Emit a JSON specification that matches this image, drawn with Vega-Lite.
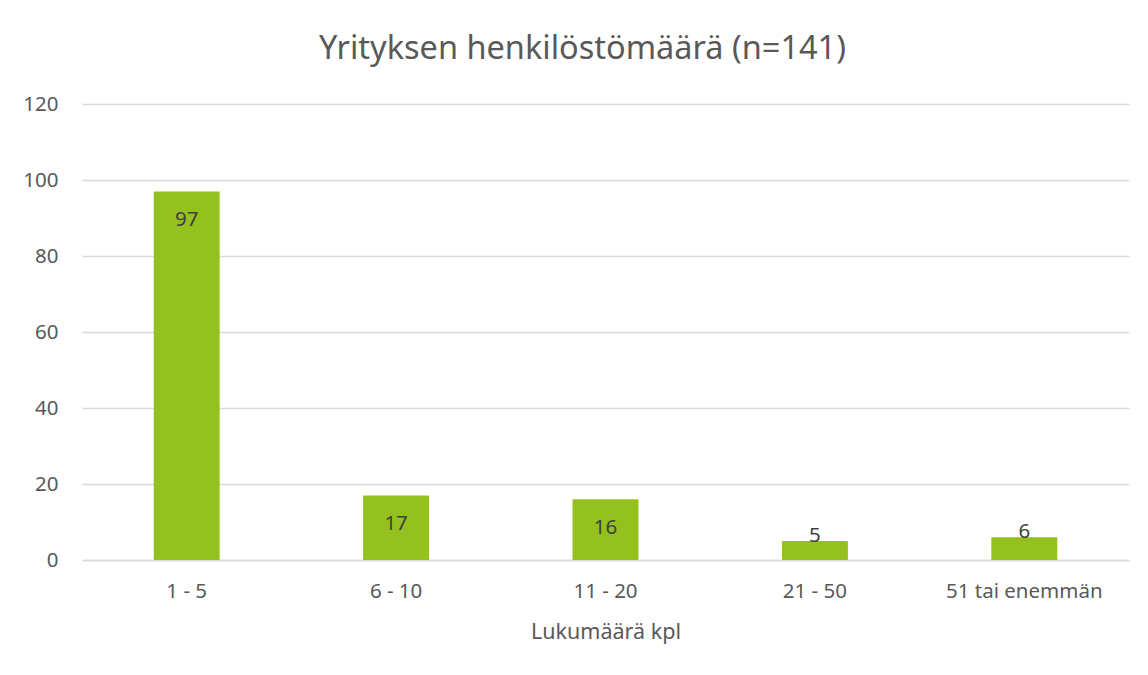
{
  "$schema": "https://vega.github.io/schema/vega-lite/v6.json",
  "autosize": {"type": "none"},
  "padding": {"left": 82, "top": 104, "right": 19, "bottom": 115},
  "width": 1047,
  "height": 456,
  "background": "white",
  "config": {
    "view": {"stroke": null},
    "font": "Noto Sans"
  },
  "title": {
    "text": "Yrityksen henkilöstömäärä (n=141)",
    "anchor": "middle",
    "frame": "group",
    "fontSize": 32.5,
    "fontWeight": "normal",
    "color": "#595959",
    "font": "Noto Sans",
    "baseline": "alphabetic",
    "offset": 3,
    "dx": -23
  },
  "data": {
    "values": [
      {"luokka": "1 - 5", "lkm": 97},
      {"luokka": "6 - 10", "lkm": 17},
      {"luokka": "11 - 20", "lkm": 16},
      {"luokka": "21 - 50", "lkm": 5},
      {"luokka": "51 tai enemmän", "lkm": 6}
    ]
  },
  "encoding": {
    "x": {
      "field": "luokka",
      "type": "nominal",
      "sort": null,
      "scale": {"paddingInner": 0.685, "paddingOuter": 0.3425},
      "axis": {
        "title": "Lukumäärä kpl",
        "titleFontSize": 21.5,
        "titleFontWeight": "normal",
        "titleColor": "#595959",
        "titleFont": "Noto Sans",
        "titlePadding": 20,
        "labelFontSize": 20.5,
        "labelColor": "#595959",
        "labelFont": "Noto Sans",
        "labelAngle": 0,
        "labelPadding": 21,
        "ticks": false,
        "domain": true,
        "domainColor": "#d9d9d9",
        "domainWidth": 1.5
      }
    },
    "y": {
      "field": "lkm",
      "type": "quantitative",
      "scale": {"domain": [0, 120]},
      "axis": {
        "title": null,
        "values": [0, 20, 40, 60, 80, 100, 120],
        "labelFontSize": 20.5,
        "labelColor": "#595959",
        "labelFont": "Noto Sans",
        "labelPadding": 24,
        "ticks": false,
        "domain": false,
        "grid": true,
        "gridColor": "#d9d9d9",
        "gridWidth": 1.5
      }
    }
  },
  "layer": [
    {"mark": {"type": "bar", "color": "#95C11F"}},
    {
      "transform": [{"filter": "datum.lkm >= 10"}],
      "mark": {"type": "text", "baseline": "middle", "dy": 29, "fontSize": 20.5, "color": "#404040", "font": "Noto Sans"},
      "encoding": {"text": {"field": "lkm", "type": "quantitative"}}
    },
    {
      "transform": [{"filter": "datum.lkm < 10"}],
      "mark": {"type": "text", "baseline": "middle", "dy": -5, "fontSize": 20.5, "color": "#404040", "font": "Noto Sans"},
      "encoding": {"text": {"field": "lkm", "type": "quantitative"}}
    }
  ]
}
